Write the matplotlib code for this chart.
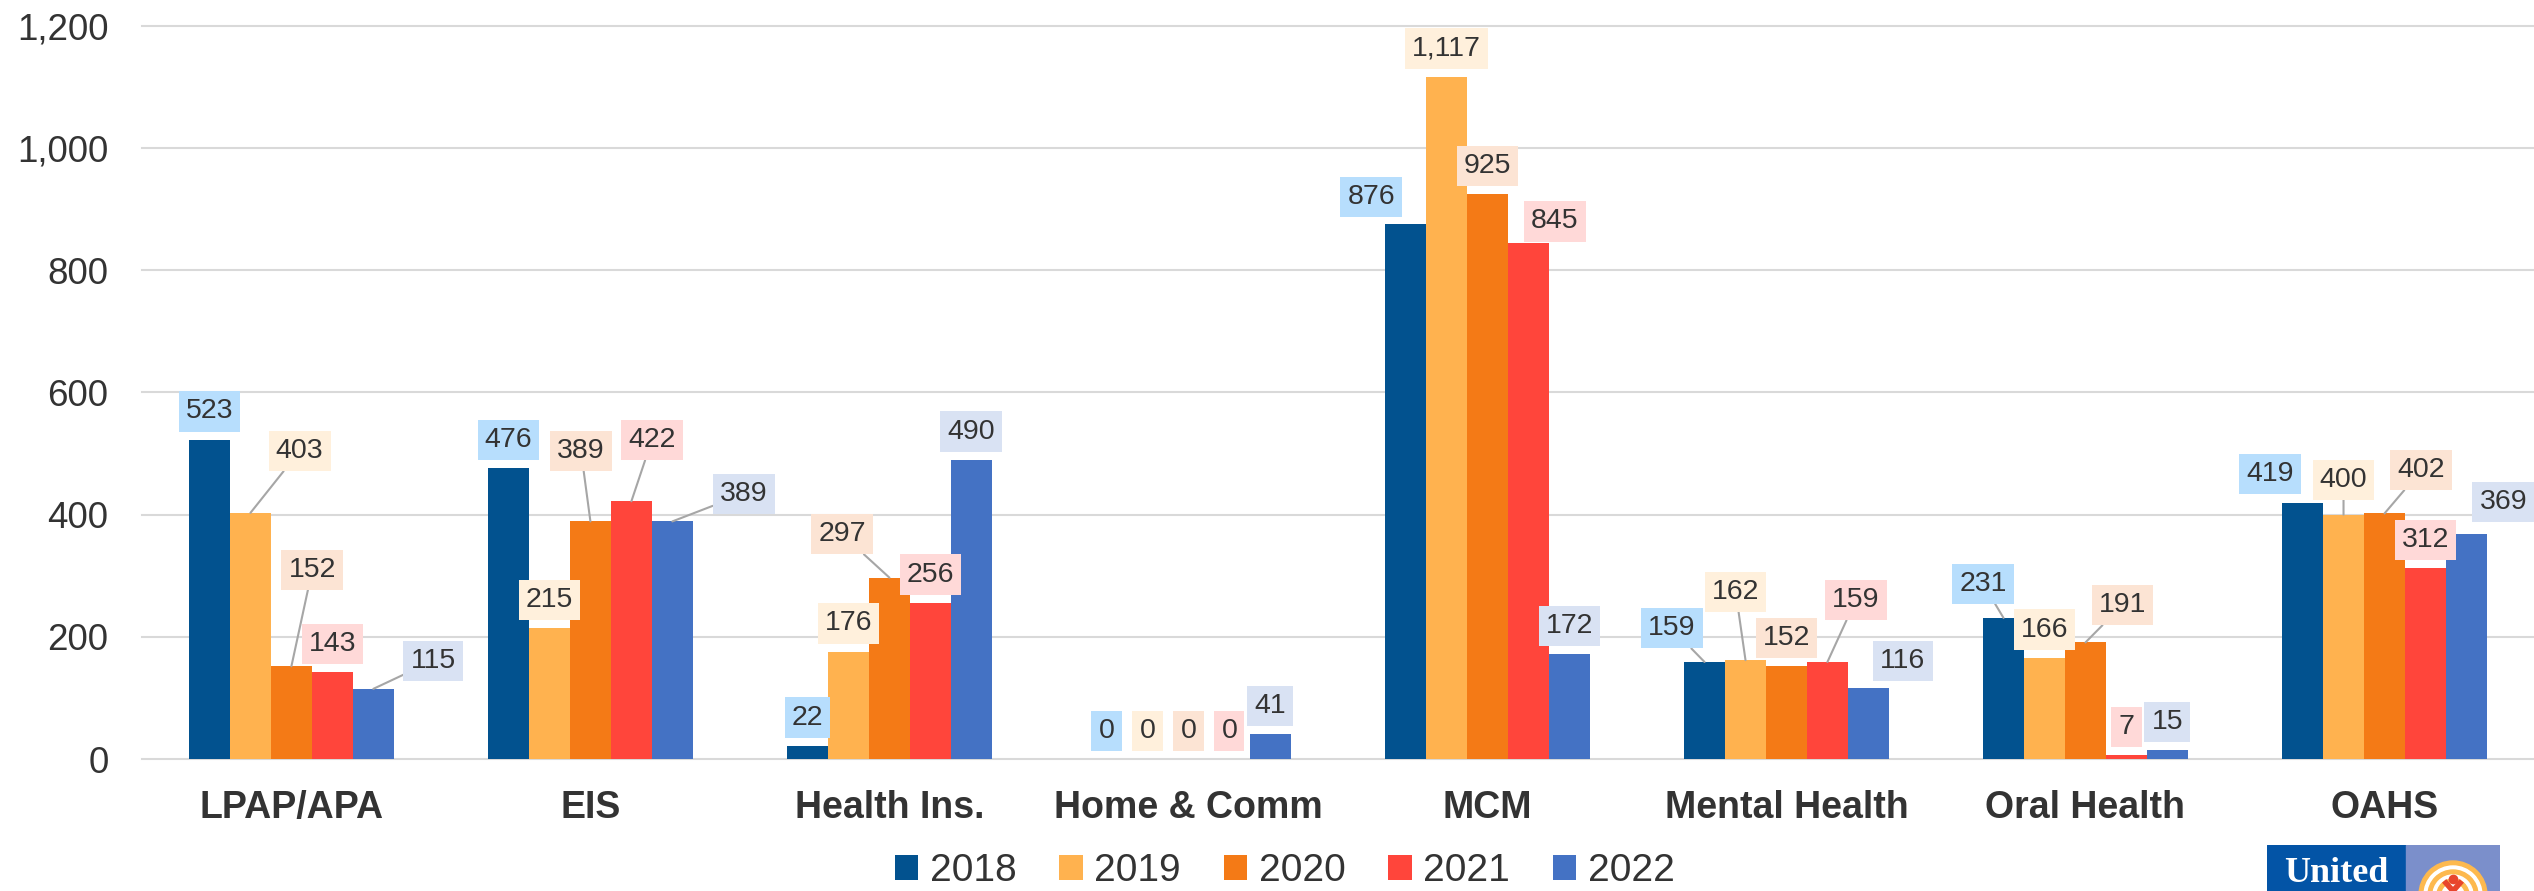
import numpy as np
import matplotlib.pyplot as plt
from matplotlib.patches import Rectangle, Wedge
from matplotlib.ticker import FuncFormatter

plt.rcParams["font.family"] = ["Liberation Sans", "DejaVu Sans"]

categories = ["LPAP/APA", "EIS", "Health Ins.", "Home & Comm", "MCM",
              "Mental Health", "Oral Health", "OAHS"]
years = ["2018", "2019", "2020", "2021", "2022"]

v2018 = [523, 476, 22, 0, 876, 159, 231, 419]
v2019 = [403, 215, 176, 0, 1117, 162, 166, 400]
v2020 = [152, 389, 297, 0, 925, 152, 191, 402]
v2021 = [143, 422, 256, 0, 845, 159, 7, 312]
v2022 = [115, 389, 490, 41, 172, 116, 15, 369]
series = [v2018, v2019, v2020, v2021, v2022]

bar_colors = ["#02528F", "#FFB24F", "#F47A16", "#FF453B", "#4472C4"]
box_colors = ["#B7DEFD", "#FFF0DC", "#FCE4D4", "#FFD9D8", "#D9E2F3"]
TEXT = "#333333"
GRID = "#D9D9D9"
LEADER = "#A6A6A6"

# label placement tweaks: (category, series) -> (dx in bar widths, dy above bar top, leader line)
label_layout = {
    (0, 1): (1.2, 101, True), (0, 2): (0.51, 158, True), (0, 4): (1.46, 46, True),
    (1, 2): (-0.23, 115, True), (1, 3): (0.5, 100, True), (1, 4): (1.74, 45, True),
    (2, 2): (-1.16, 71, True),
    (4, 0): (-0.84, 44, False), (4, 3): (0.65, 35, False),
    (5, 0): (-0.8, 55, True), (5, 1): (-0.24, 112, True), (5, 3): (0.69, 101, True),
    (5, 4): (0.84, 45, False),
    (6, 0): (-0.5, 56, True), (6, 2): (0.9, 61, True),
    (7, 0): (-0.8, 47, False), (7, 1): (0, 57, True), (7, 2): (0.9, 71, True),
    (7, 4): (0.9, 52, False),
}

fig = plt.figure(figsize=(25.34, 8.91), dpi=100)
ax = fig.add_axes([0.056, 0.148, 0.944, 0.823])

x = np.arange(len(categories))
w = 0.137
handles = []
for j, vals in enumerate(series):
    xs = x + (j - 2) * w
    h = ax.bar(xs, vals, width=w, color=bar_colors[j], label=years[j], zorder=2)
    handles.append(h)
    for i, v in enumerate(vals):
        dx, dy, leader = label_layout.get((i, j), (0, 46, False))
        props = None
        if leader:
            props = dict(arrowstyle="-", color=LEADER, lw=1.5, shrinkA=0, shrinkB=0)
        ax.annotate(f"{v:,}", xy=(xs[i], v), xytext=(xs[i] + dx * w, v + dy),
                    textcoords="data", ha="center", va="center", fontsize=20.5,
                    color=TEXT, zorder=4, arrowprops=props,
                    bbox=dict(boxstyle="square,pad=0.25", fc=box_colors[j], ec="none"))

ax.set_xlim(-0.5, len(categories) - 0.5)
ax.set_ylim(0, 1200)
ax.set_yticks(range(0, 1201, 200))
ax.yaxis.set_major_formatter(FuncFormatter(lambda v, _: f"{v:,.0f}"))
ax.set_xticks(x)
ax.set_xticklabels(categories, fontweight="bold")
ax.tick_params(axis="y", length=0, pad=24, labelsize=26.5, labelcolor=TEXT)
ax.tick_params(axis="x", length=0, pad=22, labelsize=27, labelcolor=TEXT)
ax.grid(True, axis="y", color=GRID, lw=1.5, zorder=0)
ax.set_axisbelow(True)
for s in ax.spines.values():
    s.set_visible(False)
for gl in ax.get_ygridlines():
    gl.set_clip_on(False)

fig.legend(handles=handles, labels=years, loc="center", bbox_to_anchor=(0.507, 0.022),
           ncol=5, frameon=False, fontsize=28, handlelength=0.6, handleheight=0.6,
           handletextpad=0.3, columnspacing=1.1, labelcolor=TEXT)

# United Way logo, cut off at the bottom edge
lg = fig.add_axes([2267 / 2534, 0, 233 / 2534, 46 / 891])
lg.set_xlim(0, 233)
lg.set_ylim(0, 46)
lg.axis("off")
lg.add_patch(Rectangle((0, 0), 139, 46, color="#0354A6"))
lg.add_patch(Rectangle((139, 0), 94, 46, color="#7B8FCB"))
lg.text(69, 0.5, "United", color="white", fontsize=26, fontweight="bold",
        family=["Liberation Serif", "DejaVu Serif"], ha="center", va="bottom")
for r, c in [(34, "#FDB94E"), (29, "#FFFFFF"), (25, "#FDB94E"), (20, "#FFFFFF"), (16, "#FDB94E")]:
    lg.add_patch(Wedge((186, -4), r, 0, 180, color=c))
lg.add_patch(Wedge((186, -4), 11, 0, 180, color="#FFFFFF"))
lg.plot([179, 186, 193], [8, 0, 8], color="#E8452C", lw=4)
lg.plot([186], [12], "o", color="#E8452C", ms=6)

fig.savefig("out.png", dpi=100)
